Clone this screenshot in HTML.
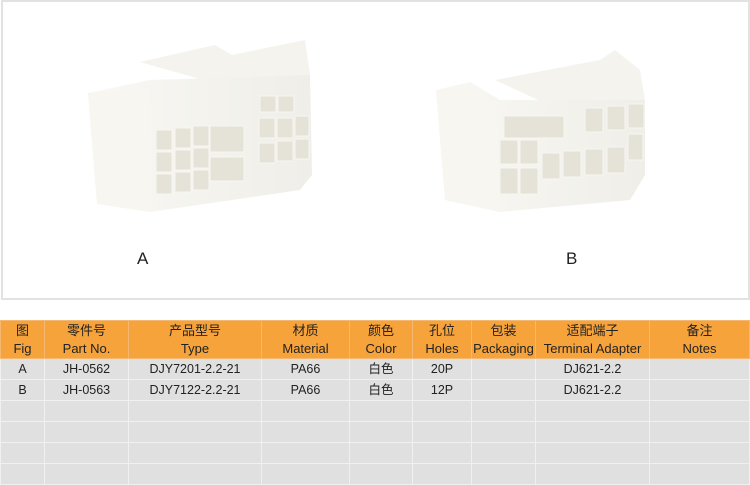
<!DOCTYPE html>
<html><head><meta charset="utf-8"><style>
body{margin:0;width:750px;height:482px;background:#fff;position:relative;overflow:hidden;font-family:"Liberation Sans","Noto Sans CJK SC",sans-serif}
.box{position:absolute;left:1px;top:0;width:745px;height:296px;border:2px solid #e2e2e2;background:#fff}
.lbl{position:absolute;font-size:17px;color:#222}
table{position:absolute;left:0;top:320px;border-collapse:collapse;width:749px;table-layout:fixed}
td{border:1px solid #f0f0f0;text-align:center;font-size:12.5px;color:#222;padding:0;height:20px;background:#dfe0df;line-height:14px}
tr.h td{background:#f6a33b;height:37px;border-color:#f4b870;line-height:18px;font-size:13px}
</style></head><body>
<div class="box"></div>
<svg style="position:absolute;left:0;top:0" width="750" height="300">
<defs><linearGradient id="g" x1="0" y1="0" x2="1" y2="0"><stop offset="0" stop-color="#f9f8f4"/><stop offset="1" stop-color="#efeee8"/></linearGradient></defs>
<!-- A -->
<polygon points="140,62 215,45 232,55 305,40 310,75 232,88" fill="#f4f3ed"/>
<polygon points="88,93 150,80 310,75 312,175 300,190 150,212 97,204" fill="url(#g)"/>
<polygon points="88,93 150,88 153,212 97,204" fill="#f7f6f1"/>
<g fill="#e5e2d7" stroke="#f7f6f0" stroke-width="1">
<rect x="156" y="130" width="16" height="20"/><rect x="175" y="128" width="16" height="20"/><rect x="193" y="126" width="16" height="20"/>
<rect x="156" y="152" width="16" height="20"/><rect x="175" y="150" width="16" height="20"/><rect x="193" y="148" width="16" height="20"/>
<rect x="156" y="174" width="16" height="20"/><rect x="175" y="172" width="16" height="20"/><rect x="193" y="170" width="16" height="20"/>
<rect x="210" y="126" width="34" height="26"/><rect x="210" y="157" width="34" height="24"/>
<rect x="260" y="96" width="16" height="16"/><rect x="278" y="96" width="16" height="16"/>
<rect x="259" y="118" width="16" height="20"/><rect x="277" y="118" width="16" height="20"/><rect x="295" y="116" width="14" height="20"/>
<rect x="259" y="143" width="16" height="20"/><rect x="277" y="141" width="16" height="20"/><rect x="295" y="139" width="14" height="20"/>
</g>
<!-- B -->
<polygon points="495,80 600,60 615,50 640,70 645,100 560,110" fill="#f4f3ed"/>
<polygon points="436,90 470,82 500,100 645,100 645,175 630,200 500,212 445,200" fill="url(#g)"/>
<polygon points="436,90 465,85 497,105 500,212 445,200" fill="#f7f6f1"/>
<g fill="#e5e2d7" stroke="#f7f6f0" stroke-width="1">
<rect x="504" y="116" width="60" height="22"/>
<rect x="585" y="108" width="18" height="24"/><rect x="607" y="106" width="18" height="24"/><rect x="628" y="104" width="16" height="24"/>
<rect x="500" y="140" width="18" height="24"/><rect x="520" y="140" width="18" height="24"/>
<rect x="500" y="168" width="18" height="26"/><rect x="520" y="168" width="18" height="26"/><rect x="542" y="153" width="18" height="26"/><rect x="563" y="151" width="18" height="26"/><rect x="585" y="149" width="18" height="26"/><rect x="607" y="147" width="18" height="26"/><rect x="628" y="134" width="15" height="26"/>
</g>
</svg>
<div class="lbl" style="left:137px;top:249px">A</div>
<div class="lbl" style="left:566px;top:249px">B</div>
<table>
<colgroup><col style="width:44px"><col style="width:84px"><col style="width:133px"><col style="width:88px"><col style="width:63px"><col style="width:59px"><col style="width:64px"><col style="width:114px"><col style="width:100px"></colgroup>
<tr class="h"><td>图<br>Fig</td><td>零件号<br>Part No.</td><td>产品型号<br>Type</td><td>材质<br>Material</td><td>颜色<br>Color</td><td>孔位<br>Holes</td><td>包装<br>Packaging</td><td>适配端子<br>Terminal Adapter</td><td>备注<br>Notes</td></tr>
<tr><td>A</td><td>JH-0562</td><td>DJY7201-2.2-21</td><td>PA66</td><td>白色</td><td>20P</td><td></td><td>DJ621-2.2</td><td></td></tr>
<tr><td>B</td><td>JH-0563</td><td>DJY7122-2.2-21</td><td>PA66</td><td>白色</td><td>12P</td><td></td><td>DJ621-2.2</td><td></td></tr>
<tr><td></td><td></td><td></td><td></td><td></td><td></td><td></td><td></td><td></td></tr>
<tr><td></td><td></td><td></td><td></td><td></td><td></td><td></td><td></td><td></td></tr>
<tr><td></td><td></td><td></td><td></td><td></td><td></td><td></td><td></td><td></td></tr>
<tr><td></td><td></td><td></td><td></td><td></td><td></td><td></td><td></td><td></td></tr>
</table>
</body></html>
